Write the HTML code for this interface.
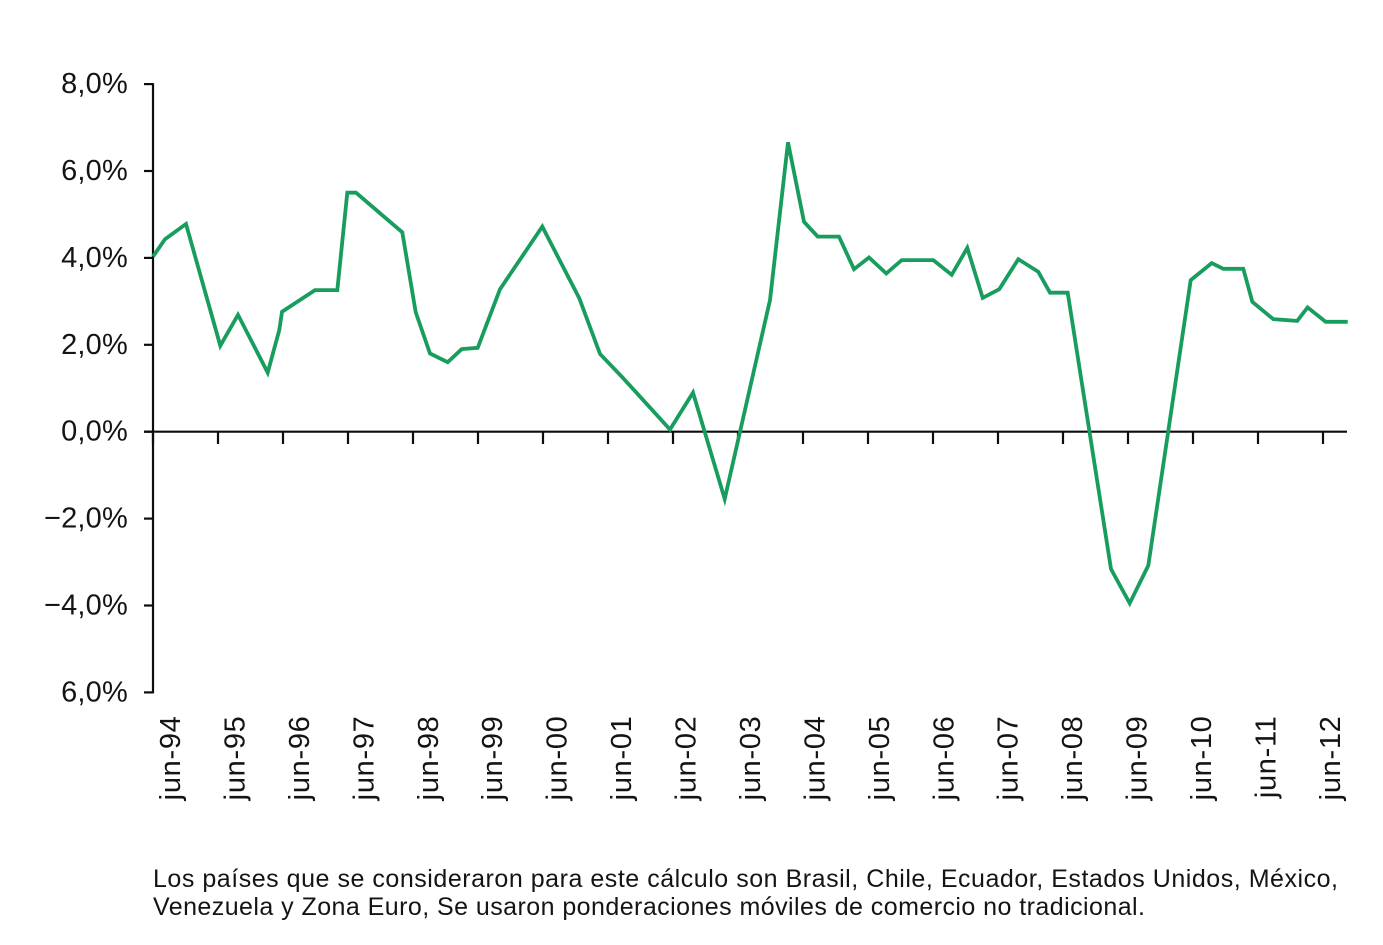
<!DOCTYPE html>
<html lang="es">
<head>
<meta charset="utf-8">
<title>Gráfico de línea jun-94 a jun-12</title>
<style>
html,body{margin:0;padding:0;background:#fff;width:1383px;height:945px;overflow:hidden}
svg{display:block}
text{font-family:"Liberation Sans",Arial,sans-serif;fill:#141414}
</style>
</head>
<body>
<svg id="chart" xmlns="http://www.w3.org/2000/svg" width="1383" height="945" viewBox="0 0 1383 945">
  <rect x="0" y="0" width="1383" height="945" fill="#ffffff"/>
  <g id="axes"></g>
  <g id="series"></g>
  <g font-size="25">
    <text x="153" y="887" textLength="1185" lengthAdjust="spacing">Los países que se consideraron para este cálculo son Brasil, Chile, Ecuador, Estados Unidos, México,</text>
    <text x="153" y="915" textLength="992" lengthAdjust="spacing">Venezuela y Zona Euro, Se usaron ponderaciones móviles de comercio no tradicional.</text>
  </g>
</svg>
<script>
// Years elapsed since jun-94 for each reading
const years = [0,0.185,0.508,1.035,1.308,1.765,1.943,1.985,2.492,2.835,2.989,3.123,3.835,4.042,4.262,4.534,4.749,4.995,5.338,5.989,6.558,6.877,7.235,7.954,8.308,8.795,9.492,9.769,10.015,10.226,10.554,10.785,11.015,11.282,11.518,12.005,12.288,12.528,12.765,13.020,13.312,13.620,13.800,14.072,14.738,15.026,15.312,15.965,16.288,16.466,16.774,16.912,17.235,17.603,17.763,18.042,18.38];
// Percent values for each reading
const values = [4.03,4.43,4.78,1.98,2.69,1.36,2.34,2.76,3.26,3.26,5.50,5.50,4.59,2.75,1.80,1.60,1.90,1.93,3.28,4.72,3.07,1.79,1.23,0.05,0.90,-1.55,3.03,6.66,4.83,4.49,4.49,3.74,4.01,3.64,3.95,3.95,3.61,4.23,3.08,3.28,3.97,3.68,3.20,3.20,-3.16,-3.95,-3.08,3.49,3.88,3.75,3.75,2.99,2.59,2.55,2.86,2.53,2.53];
const yTickValues = [8,6,4,2,0,-2,-4,-6];
const yTickLabels = ["8,0%","6,0%","4,0%","2,0%","0,0%","\u22122,0%","\u22124,0%","6,0%"];
const xTickLabels = ["jun-94","jun-95","jun-96","jun-97","jun-98","jun-99","jun-00","jun-01","jun-02","jun-03","jun-04","jun-05","jun-06","jun-07","jun-08","jun-09","jun-10","jun-11","jun-12"];

const NS = "http://www.w3.org/2000/svg";
const xAxis = t => 153 + 65 * t;
const yAxis = v => 431.7 - 43.45 * v;
const xLabelPos = i => 180 + 64.44 * i;
const axes = document.getElementById("axes");
const series = document.getElementById("series");
const ink = "#0d0d0d";

function line(parent, x1, y1, x2, y2, w) {
  const l = document.createElementNS(NS, "line");
  l.setAttribute("x1", x1);
  l.setAttribute("y1", y1);
  l.setAttribute("x2", x2);
  l.setAttribute("y2", y2);
  l.setAttribute("stroke", ink);
  l.setAttribute("stroke-width", w);
  parent.appendChild(l);
  return l;
}

const yLine = line(axes, xAxis(0), yAxis(8) - 1, xAxis(0), yAxis(-6) + 1, 2.2);



const zeroLine = line(axes, 144, yAxis(0), 1347, yAxis(0), 2.2);



yTickValues.forEach((v, i) => {
  const tick = line(axes, 144, yAxis(v), xAxis(0), yAxis(v), 2.2);
  
  
  const label = document.createElementNS(NS, "text");
  
  
  label.setAttribute("x", 128);
  label.setAttribute("y", yAxis(v) + 9);
  label.setAttribute("text-anchor", "end");
  label.setAttribute("font-size", "29");
  label.setAttribute("letter-spacing", "0.2");
  label.textContent = yTickLabels[i];
  axes.appendChild(label);
});

xTickLabels.forEach((name, i) => {
  const px = xAxis(i);
  const tick = line(axes, px, yAxis(0), px, 444, 2.2);
  
  
  const label = document.createElementNS(NS, "text");
  
  
  label.setAttribute("transform", "translate(" + xLabelPos(i).toFixed(1) + ",715.5) rotate(-90)");
  label.setAttribute("text-anchor", "end");
  label.setAttribute("font-size", "29");
  label.setAttribute("letter-spacing", "0.7");
  label.textContent = name;
  axes.appendChild(label);
});

const path = document.createElementNS(NS, "polyline");


path.setAttribute("fill", "none");
path.setAttribute("stroke", "#189d5f");
path.setAttribute("stroke-width", "3.8");
path.setAttribute("stroke-linejoin", "miter");
path.setAttribute("stroke-miterlimit", "6");
path.setAttribute("points", years.map((t, i) => xAxis(t).toFixed(1) + "," + yAxis(values[i]).toFixed(1)).join(" "));
series.appendChild(path);
</script>
</body>
</html>
